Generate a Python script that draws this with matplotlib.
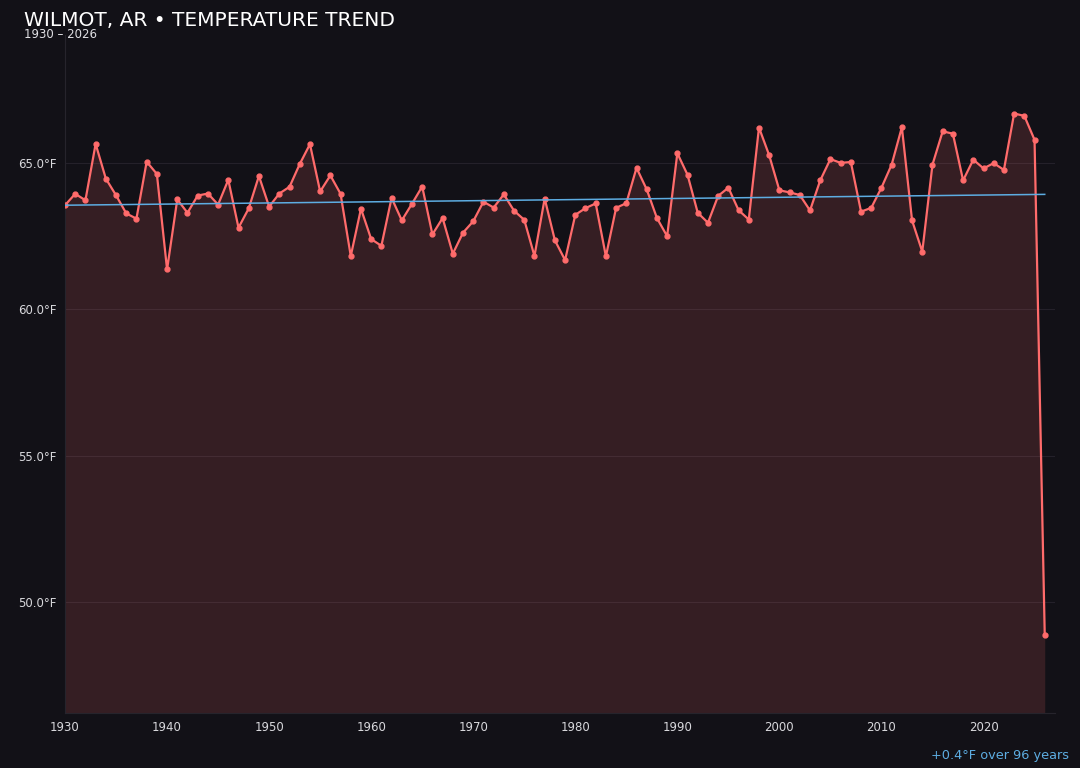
import numpy as np
import matplotlib
matplotlib.use("Agg")
import matplotlib.pyplot as plt

# yearly mean temperature, Wilmot AR
years = list(range(1930, 2027))
temps = [
    63.57, 63.96, 63.74, 65.67, 64.48, 63.91, 63.29, 63.11, 65.06, 64.64,  # 1930s
    61.37, 63.77, 63.31, 63.90, 63.97, 63.59, 64.44, 62.80, 63.46, 64.57,  # 1940s
    63.52, 63.97, 64.20, 64.98, 65.66, 64.04, 64.59, 63.96, 61.83, 63.45,  # 1950s
    62.41, 62.18, 63.82, 63.05, 63.62, 64.21, 62.57, 63.13, 61.91, 62.63,  # 1960s
    63.02, 63.69, 63.49, 63.94, 63.38, 63.07, 61.83, 63.80, 62.37, 61.69,  # 1970s
    63.24, 63.47, 63.63, 61.82, 63.48, 63.64, 64.85, 64.11, 63.13, 62.51,  # 1980s
    65.35, 64.61, 63.31, 62.97, 63.89, 64.17, 63.40, 63.08, 66.23, 65.28,  # 1990s
    64.08, 64.01, 63.92, 63.39, 64.42, 65.15, 65.02, 65.05, 63.35, 63.48,  # 2000s
    64.17, 64.96, 66.24, 63.05, 61.98, 64.96, 66.10, 66.02, 64.42, 65.13,  # 2010s
    64.83, 65.01, 64.78, 66.71, 66.63, 65.81, 48.86,                       # 2020s
]
title = "WILMOT, AR • TEMPERATURE TREND"
subtitle = "1930 – 2026"
trend_note = "+0.4°F over 96 years"
yticks = [50, 55, 60, 65]

bg = "#121117"
red = "#ff6b6b"
blue = "#5dade2"

x = np.array(years)
y = np.array(temps)

# linear trend over all years
slope, icpt = np.polyfit(x, y, 1)
trend = slope * x + icpt

fig = plt.figure(figsize=(10.8, 7.68), dpi=100, facecolor=bg)
ax = fig.add_axes([0.0602, 0.0716, 0.9166, 0.8824])
ax.set_facecolor(bg)

pad = (y.max() - y.min()) * 0.15
ymin = y.min() - pad
ax.set_ylim(ymin, y.max() + pad)
ax.set_xlim(1930, 2027)

ax.fill_between(x, y, ymin, color=red, alpha=0.15, linewidth=0, zorder=1)
ax.plot(x, y, color=red, linewidth=1.6, marker="o", markersize=3.5, zorder=3)
ax.plot(x, trend, color=blue, linewidth=1.1, zorder=4)

ax.set_yticks(yticks)
ax.set_yticklabels([f"{v:.1f}°F" for v in yticks])
ax.set_xticks(range(1930, 2030, 10))
ax.tick_params(colors="#d8d8dc", labelsize=8.5, length=0, pad=6)
ax.grid(axis="y", color="#24212a", linewidth=0.8)
ax.set_axisbelow(True)
for s in ["top", "right"]:
    ax.spines[s].set_visible(False)
for s in ["left", "bottom"]:
    ax.spines[s].set_color("#26242c")
    ax.spines[s].set_linewidth(0.8)

fig.text(24 / 1080, 1 - 21 / 768, title, color="white", fontsize=14.5,
         va="center", ha="left")
fig.text(24 / 1080, 1 - 35 / 768, subtitle, color="#e0e0e4", fontsize=8.5,
         va="center", ha="left")
fig.text(1069 / 1080, 1 - 756 / 768, trend_note, color=blue, fontsize=9.3,
         va="center", ha="right")

fig.savefig("out.png", dpi=100, facecolor=bg)
